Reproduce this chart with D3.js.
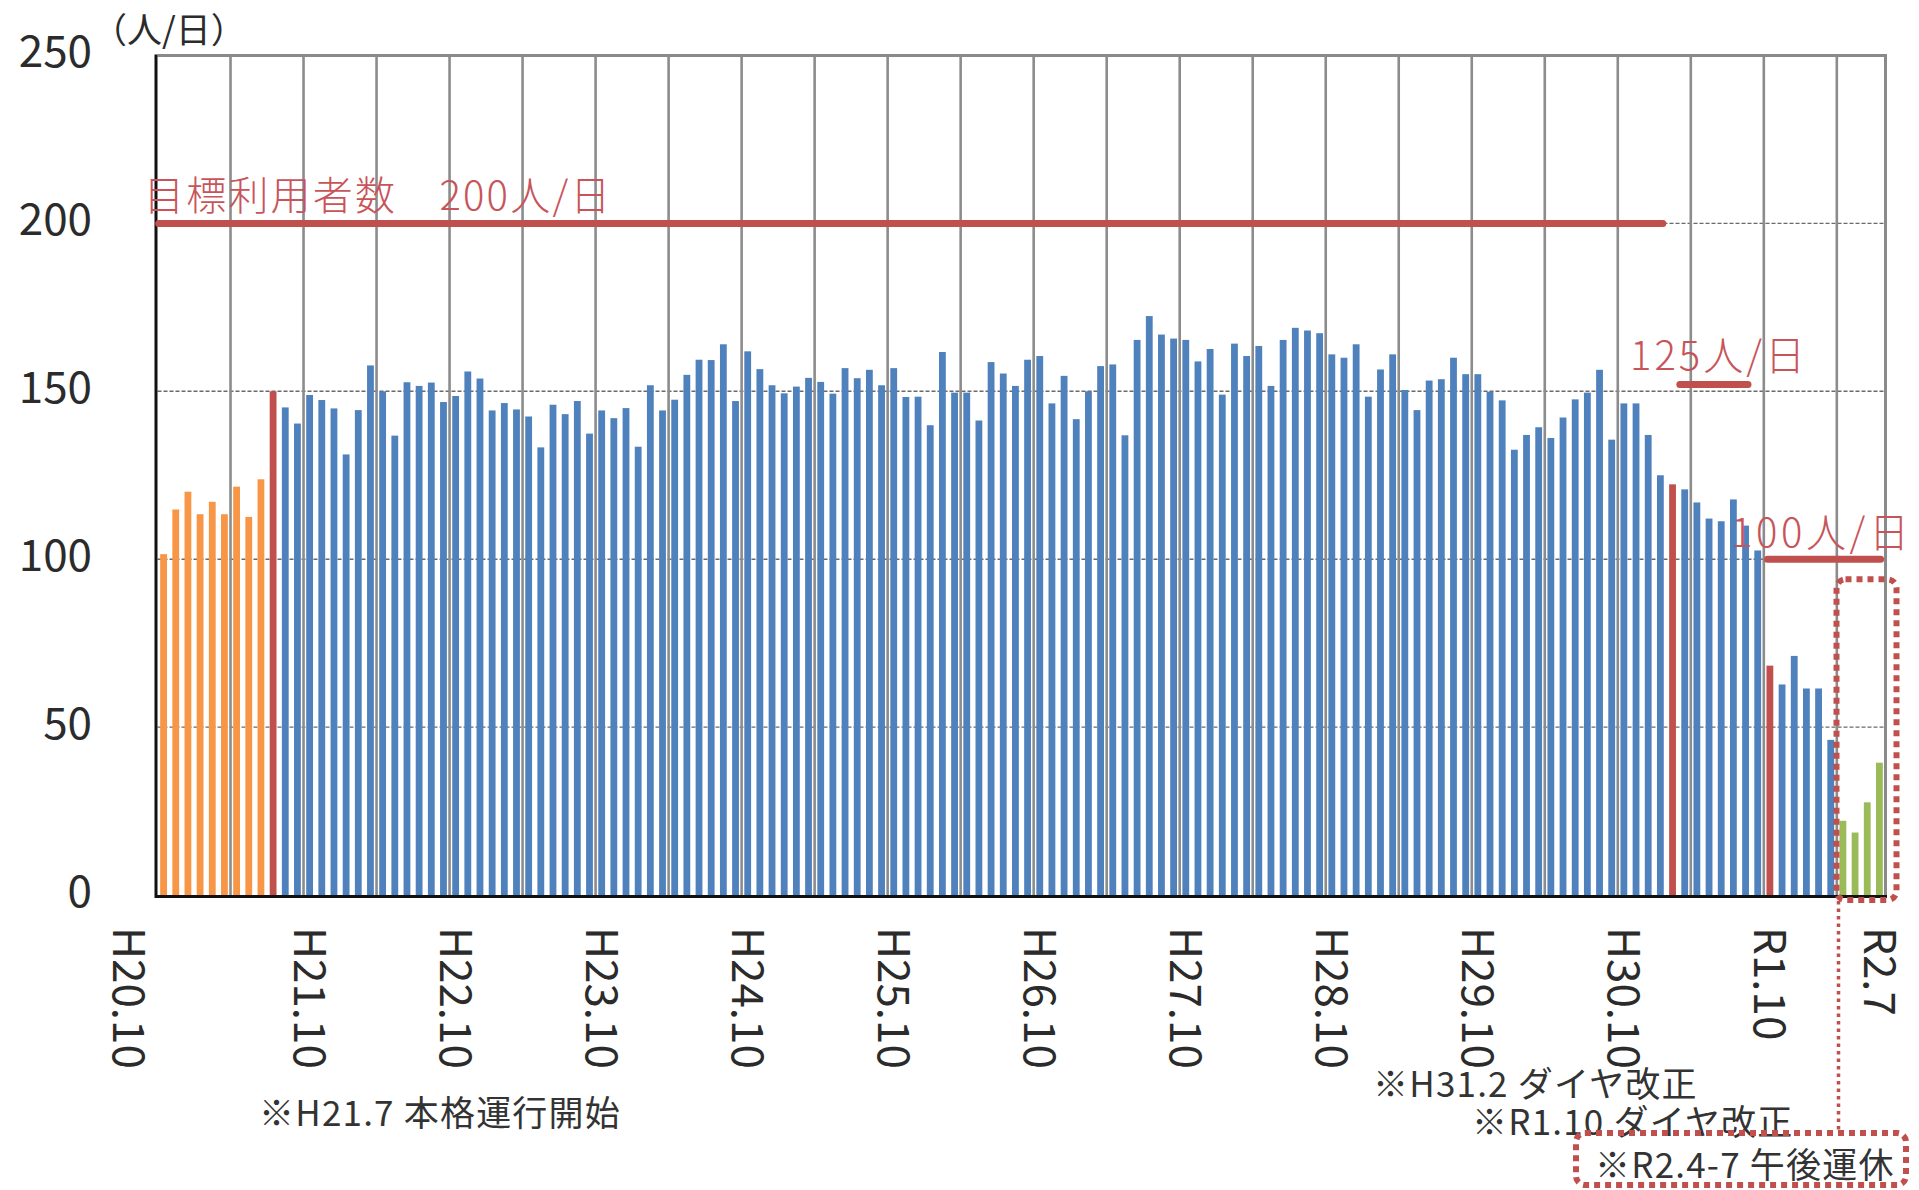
<!DOCTYPE html>
<html><head><meta charset="utf-8">
<script src="https://cdn.jsdelivr.net/npm/d3@7"></script>
<style>
html,body{margin:0;padding:0;background:#fff;}
svg{display:block;}
text{font-family:"Noto Sans CJK JP","Noto Sans",sans-serif;}
</style></head><body>
<svg id="chart" width="1919" height="1190"></svg>
<script>
// ---- categories: monthly, H20.10 (2008-10) .. R2.7 (2020-07)
const firstYear = 2008, firstMonth = 10, monthCount = 142;
const months = d3.range(monthCount).map(i => {
  const m = firstMonth - 1 + i;
  return `${firstYear + Math.floor(m / 12)}-${String(m % 12 + 1).padStart(2, "0")}`;
});

// ---- series values (人/日)
// 試験運行 2008-10 .. 2009-06
const trialValues = [101.5, 114.8, 120.1, 113.4, 117.1, 113.4, 121.6, 112.6, 123.8];
// 本格運行 2009-07 .. 2020-03
const regularValues = [
  150.0,
  145.2, 140.4, 148.9, 147.4, 144.9, 131.2, 144.4, 157.7, 150.0, 136.8, 152.7,
  151.6, 152.6, 146.8, 148.6, 155.9, 153.8, 144.3, 146.5, 144.6, 142.5, 133.3,
  146.0, 143.2, 147.1, 137.4, 144.3, 142.0, 145.0, 133.5, 151.8, 144.3,
  147.5, 154.9, 159.4, 159.3, 164.0, 147.1, 161.9, 156.6, 151.8, 149.4,
  151.4, 154.0, 152.8, 149.3, 156.9, 153.9, 156.4, 151.8, 156.9, 148.3,
  148.4, 139.9, 161.7, 149.6, 149.6, 141.3, 158.7, 155.3, 151.6, 159.4, 160.5,
  146.4, 154.6, 141.7, 150.0, 157.5, 158.0, 136.9, 165.3, 172.4, 166.9,
  165.7, 165.3, 158.9, 162.6, 149.0, 164.2, 160.5, 163.5, 151.6, 165.3,
  168.9, 168.1, 167.3, 161.0, 160.0, 164.0, 148.4, 156.5, 161.0, 150.4,
  144.4, 153.2, 153.6, 160.0, 155.1, 155.1, 149.9, 147.3, 132.6, 137.0, 139.3,
  136.1, 142.2, 147.6, 149.6, 156.4, 135.6, 146.4, 146.4, 137.0, 125.0,
  122.3,
  120.8, 116.9, 112.1, 111.3, 117.8, 110.0, 102.6,
  68.3,
  62.7, 71.2, 61.5, 61.5, 46.2
];
// 本格運行開始・ダイヤ改正の月（赤）
const revisionMonths = ["2009-07", "2019-02", "2019-10"];
// 午後運休 2020-04 .. 2020-07
const suspendedValues = [22.1, 18.6, 27.6, 39.4];

// ---- ticks
const tickMonths = ["2008-10","2009-10","2010-10","2011-10","2012-10","2013-10","2014-10",
                    "2015-10","2016-10","2017-10","2018-10","2019-10","2020-07"];
const tickLabels = ["H20.10","H21.10","H22.10","H23.10","H24.10","H25.10","H26.10",
                    "H27.10","H28.10","H29.10","H30.10","R1.10","R2.7"];
const yTicks = [0, 50, 100, 150, 200, 250];

// ---- targets (人/日) and notes
const targetValues = [200, 152, 100];
const targetLabels = ["目標利用者数　200人/日", "125人/日", "100人/日"];
const targetStart = [0.1, 125.1, 132.3];   // in months from H20.10
const targetEnd   = [123.7, 130.7, 141.6];
const notes = ["※H21.7 本格運行開始", "※H31.2 ダイヤ改正", "※R1.10 ダイヤ改正", "※R2.4-7 午後運休"];

// ---- colors
const C = { trial: "#F79646", regular: "#4F81BD", revision: "#C0504D", suspended: "#9BBB59" };

// ---- build records
const nTrial = trialValues.length, nReg = regularValues.length;
const bars = months.map((m, i) => {
  let value, kind;
  if (i < nTrial) { value = trialValues[i]; kind = "trial"; }
  else if (i < nTrial + nReg) { value = regularValues[i - nTrial]; kind = revisionMonths.includes(m) ? "revision" : "regular"; }
  else { value = suspendedValues[i - nTrial - nReg]; kind = "suspended"; }
  return { month: m, value, kind };
});

const svg = d3.select("#chart");
const L = 157.5, R = 1885.5, T = 55.5, B = 895;
const x = d3.scaleBand().domain(months).range([L, R]).paddingInner(0.44).paddingOuter(0.22);
const y = d3.scaleLinear().domain([0, 250]).range([B, T]);
const step = x.step();
const xAt = t => L + t * step;

// horizontal gridlines
svg.append("g").selectAll("line").data(yTicks.filter(v => v > 0 && v < 250)).join("line")
  .attr("x1", L).attr("x2", R).attr("y1", d => y(d)).attr("y2", d => y(d))
  .attr("stroke", "#6a6a6a").attr("stroke-width", 1.4).attr("stroke-dasharray", "4,2");

// vertical gridlines every 6 months (category boundaries)
const vGrid = d3.range(6, monthCount, 6);
svg.append("g").selectAll("line").data(vGrid).join("line")
  .attr("x1", k => xAt(k)).attr("x2", k => xAt(k)).attr("y1", T).attr("y2", B)
  .attr("stroke", "#8c8c8c").attr("stroke-width", 2.6);

// bars
svg.append("g").selectAll("rect").data(bars).join("rect")
  .attr("x", d => x(d.month)).attr("width", x.bandwidth())
  .attr("y", d => y(d.value)).attr("height", d => B - y(d.value))
  .attr("fill", d => C[d.kind]);

// plot border
svg.append("path").attr("d", `M${L},${T}H${R}V${B}`).attr("fill", "none")
  .attr("stroke", "#8a8a8a").attr("stroke-width", 3);
svg.append("path").attr("d", `M${L - 1.5},${T - 1}V${B + 1.5}H${R + 1.5}`).attr("fill", "none")
  .attr("stroke", "#111").attr("stroke-width", 3);

// y axis labels
const yAxis = svg.append("g").attr("transform", `translate(${L},0)`)
  .call(d3.axisLeft(y).tickValues(yTicks).tickSize(0).tickPadding(65.5));
yAxis.select(".domain").remove();
yAxis.selectAll("text").attr("font-size", 44).attr("fill", "#2b2b2b")
  .attr("font-family", '"Noto Sans CJK JP", sans-serif').attr("dy", "0.25em");

// unit
svg.append("text").attr("x", 92).attr("y", 27).attr("dominant-baseline", "central")
  .attr("font-size", 35).attr("fill", "#2b2b2b").text("（人/日）");

// x axis labels
const xAxis = svg.append("g").attr("transform", `translate(0,${B})`)
  .call(d3.axisBottom(x).tickValues(tickMonths)
    .tickFormat(m => tickLabels[tickMonths.indexOf(m)]).tickSize(0));
xAxis.select(".domain").remove();
xAxis.selectAll("text")
  .attr("font-size", 44).attr("fill", "#2b2b2b")
  .attr("font-family", '"Noto Sans CJK JP", sans-serif')
  .attr("text-anchor", "start").attr("transform", "rotate(90)")
  .attr("x", 32).attr("y", (d, i) => i === 0 ? 35 : 0).attr("dy", "0.36em");

// target lines
svg.append("g").selectAll("line").data(targetValues).join("line")
  .attr("x1", (d, i) => xAt(targetStart[i])).attr("x2", (d, i) => xAt(targetEnd[i]))
  .attr("y1", d => y(d)).attr("y2", d => y(d))
  .attr("stroke", C.revision).attr("stroke-width", 7).attr("stroke-linecap", "round");
const labelPos = [[144, 193], [1630, 353], [1731, 530]];
const labelSpacing = [2.2, 3, 3.6];
svg.append("g").selectAll("text").data(targetLabels).join("text")
  .attr("x", (d, i) => labelPos[i][0]).attr("y", (d, i) => labelPos[i][1])
  .attr("dominant-baseline", "central").attr("font-size", 40)
  .attr("font-family", '"Noto Sans CJK JP Light", "Noto Sans CJK JP", sans-serif')
  .attr("font-weight", 300)
  .attr("letter-spacing", (d, i) => labelSpacing[i])
  .attr("fill", "#C8545A")
  .text(d => d);

// notes
const notePos = [[259, 1110], [1373, 1081], [1472, 1119], [1595, 1162]];
svg.append("g").selectAll("text").data(notes).join("text")
  .attr("x", (d, i) => notePos[i][0]).attr("y", (d, i) => notePos[i][1])
  .attr("dominant-baseline", "central").attr("font-size", 35).attr("letter-spacing", 1.2)
  .attr("fill", "#333")
  .text(d => d);

// dotted highlight around suspended months
const hx0 = x("2020-04") - 3, hx1 = R + 11;
svg.append("rect").attr("x", hx0).attr("y", y(94)).attr("width", hx1 - hx0).attr("height", B + 5 - y(94))
  .attr("rx", 9).attr("fill", "none").attr("stroke", C.revision).attr("stroke-width", 6)
  .attr("stroke-dasharray", "6,5");
svg.append("line").attr("x1", hx0 + 2).attr("x2", hx0 + 2).attr("y1", B + 6).attr("y2", 1133)
  .attr("stroke", C.revision).attr("stroke-width", 3.5).attr("stroke-dasharray", "3.5,4");
svg.append("rect").attr("x", 1576).attr("y", 1133).attr("width", 330).attr("height", 52)
  .attr("rx", 9).attr("fill", "none").attr("stroke", C.revision).attr("stroke-width", 6)
  .attr("stroke-dasharray", "6,5");
</script>
</body></html>
